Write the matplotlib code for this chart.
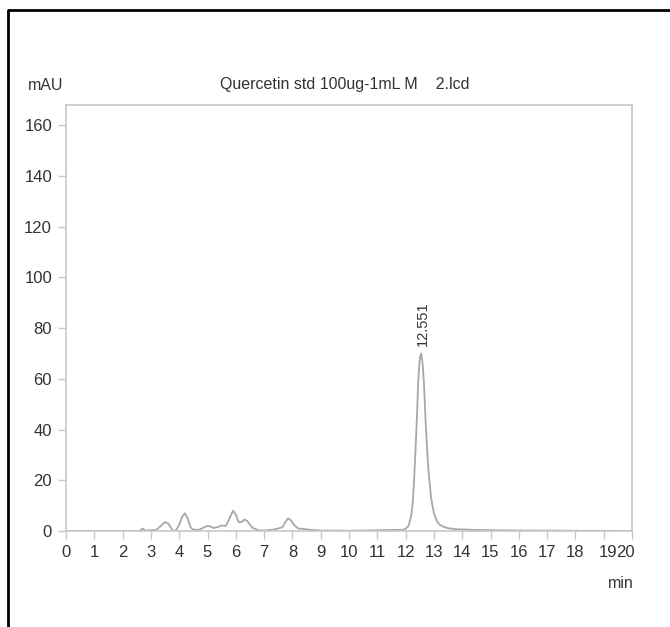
import matplotlib.pyplot as plt
from matplotlib.lines import Line2D
from matplotlib.transforms import ScaledTranslation

# chromatogram points (min, mAU)
rt = [0.0, 2.6, 2.7, 2.8, 3.0, 3.2, 3.35, 3.5, 3.6, 3.7, 3.8, 3.9, 4.0, 4.1, 4.2,
      4.3, 4.4, 4.5, 4.7, 4.9, 5.0, 5.1, 5.2, 5.35, 5.5, 5.65, 5.8, 5.9, 6.0, 6.1,
      6.2, 6.3, 6.4, 6.5, 6.6, 6.8, 7.0, 7.3, 7.5, 7.65, 7.75, 7.85, 7.95, 8.05,
      8.2, 8.4, 8.6, 9.0, 10.0, 11.0, 11.9, 12.0, 12.1, 12.2, 12.25, 12.3, 12.35,
      12.4, 12.45, 12.5, 12.55, 12.6, 12.65, 12.7, 12.75, 12.8, 12.9, 13.0, 13.1,
      13.2, 13.35, 13.5, 13.8, 14.5, 16.0, 20.0]
mau = [0.0, 0.0, 1.0, 0.2, 0.3, 0.5, 2.0, 3.5, 3.0, 1.5, -0.3, 0.5, 2.5, 5.5, 7.0,
       5.0, 1.5, 0.5, 0.5, 1.5, 2.0, 1.8, 1.2, 1.5, 2.2, 2.0, 5.5, 8.0, 6.5, 3.5,
       3.5, 4.5, 4.0, 2.5, 1.2, 0.3, 0.2, 0.5, 1.0, 1.5, 3.5, 5.0, 4.2, 2.5,
       1.0, 0.8, 0.5, 0.2, 0.1, 0.3, 0.5, 0.8, 2.0, 6.0, 11.0, 20.0, 32.0,
       45.0, 60.0, 68.0, 70.0, 66.0, 58.0, 45.0, 34.0, 25.0, 13.0, 7.0, 4.0,
       2.5, 1.6, 1.1, 0.7, 0.4, 0.2, 0.0]

peak_rt = 12.551
peak_h = 70.0
x_ticks = list(range(0, 21))
y_ticks = list(range(0, 161, 20))

plt.rcParams['font.family'] = ['Liberation Sans', 'DejaVu Sans']
txt = '#333333'
grey = '#c8c8c8'

fig = plt.figure(figsize=(6.7, 6.27), dpi=100)
ax = fig.add_axes([66/670, 1 - 531/627, (632 - 66)/670, (531 - 105)/627])

ax.plot(rt, mau, color='#a8a8a8', lw=1.3)
ax.text(peak_rt + 0.05, peak_h + 3, f'{peak_rt:.3f}', rotation=90,
        ha='center', va='bottom', fontsize=10.5, color=txt)

ax.set_xlim(0, 20)
ax.set_ylim(0, 168)
ax.set_xticks(x_ticks)
ax.set_yticks(y_ticks)
ax.set_xticklabels([str(t) for t in x_ticks])
for s in ax.spines.values():
    s.set_color(grey)
    s.set_linewidth(1.2)
ax.tick_params(direction='out', length=6, width=1, color=grey,
               labelsize=12, labelcolor=txt, pad=4)

# the last two labels are squeezed together at the right end, as in the original
ticks = ax.xaxis.get_major_ticks()
ticks[19].label1.set_horizontalalignment('center')
ticks[19].label1.set_transform(ticks[19].label1.get_transform()
                               + ScaledTranslation(3/72, 0, fig.dpi_scale_trans))
ticks[20].label1.set_horizontalalignment('right')
ticks[20].label1.set_transform(ticks[20].label1.get_transform()
                               + ScaledTranslation(2/72, 0, fig.dpi_scale_trans))

fig.text(345/670, 1 - 85/627, 'Quercetin std 100ug-1mL M    2.lcd',
         ha='center', va='center', fontsize=11.5, color=txt)
fig.text(28/670, 1 - 85/627, 'mAU', ha='left', va='center', fontsize=11.5, color=txt)
fig.text(634/670, 1 - 583/627, 'min', ha='right', va='center', fontsize=11.5, color=txt)

# outer frame, only left and top edges fall inside the picture
fig.add_artist(Line2D([8/670, 8/670, 1], [0, 1 - 10/627, 1 - 10/627],
                      transform=fig.transFigure, color='black', lw=2))

fig.savefig('out.png', dpi=100)
